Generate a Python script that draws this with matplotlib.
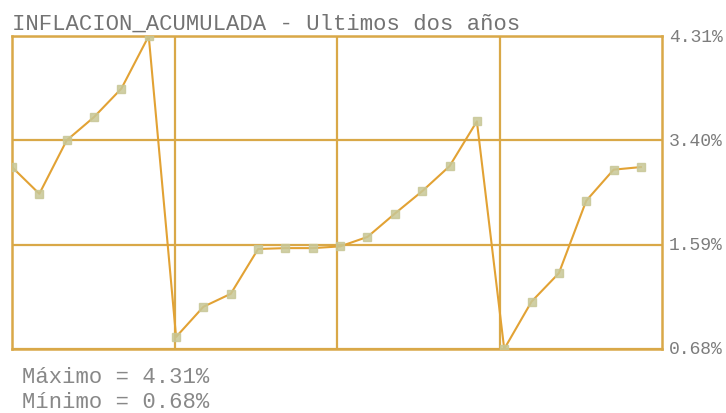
import matplotlib
matplotlib.use("Agg")
import matplotlib.pyplot as plt
import numpy as np

title = "INFLACION_ACUMULADA - Ultimos dos años"
values = [2.79, 2.48, 3.10, 3.37, 3.70, 4.31, 0.82, 1.17, 1.32, 1.84, 1.85, 1.85,
          1.87, 1.98, 2.25, 2.51, 2.80, 3.32, 0.68, 1.23, 1.56, 2.40, 2.76, 2.79]
tick_labels = ["0.68%", "1.59%", "3.40%", "4.31%"]
max_text = "Máximo = 4.31%"
min_text = "Mínimo = 0.68%"

vmin, vmax = 0.68, 4.31

W, H = 726, 414
fig = plt.figure(figsize=(W / 100, H / 100), dpi=100)
ax = fig.add_axes([12 / W, (H - 350) / H, 650 / W, 313 / H])

gold = "#D9A848"
mono = ["Liberation Mono", "DejaVu Sans Mono"]
x = np.arange(len(values))
ax.plot(x, values, color="#E2A234", lw=1.5, zorder=3)
ax.plot(x, values, ls="none", marker="s", ms=5.5, mfc="#C8C796", mec="#C8C796",
        alpha=0.85, zorder=4)

ax.set_xlim(0, 23.77)
ax.set_ylim(vmin, vmax)
ax.set_xticks(np.linspace(0, 23.77, 5)[1:-1])
ax.set_xticklabels([])
yt = np.linspace(vmin, vmax, 4)
ax.set_yticks(yt)
ax.set_yticklabels(tick_labels)
ax.yaxis.tick_right()
ax.tick_params(axis="both", length=0)
ax.tick_params(axis="y", pad=5, labelsize=13, labelcolor="#7c7c7c")
for lab in ax.get_yticklabels():
    lab.set_family(mono)
    lab.set_verticalalignment("center")
ax.grid(True, color=gold, lw=1.6)
ax.set_axisbelow(True)
for s in ax.spines.values():
    s.set_color(gold)
    s.set_linewidth(1.8)
ax.set_facecolor("white")

fig.text(12 / W, 1 - 24 / H, title, family=mono, fontsize=16,
         color="#737373", va="center", ha="left")
fig.text(22 / W, 1 - 378 / H, max_text, family=mono, fontsize=16,
         color="#888888", va="center", ha="left")
fig.text(22 / W, 1 - 403 / H, min_text, family=mono, fontsize=16,
         color="#888888", va="center", ha="left")

fig.savefig("out.png", dpi=100)
